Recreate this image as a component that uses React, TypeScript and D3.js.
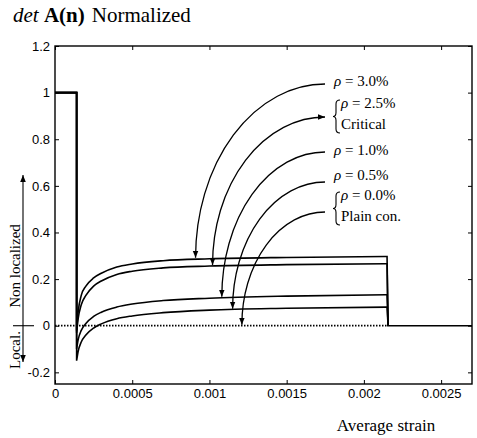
import * as d3 from 'd3';
import React, { useEffect, useRef } from 'react';

// strain where the step ends / where the curves drop back to zero
const stepEnd = 0.00014;
const dropAt = 0.00215;

// [strain, det A(n)] after the step, one array per reinforcement ratio
const rho30 = [[0.00014, -0.02], [0.00015, 0.06], [0.00017, 0.13], [0.0002, 0.17], [0.00025, 0.205], [0.0003, 0.225], [0.0004, 0.252], [0.0005, 0.265], [0.0007, 0.279], [0.001, 0.287], [0.0015, 0.293], [0.00215, 0.297]];
const rho25 = [[0.00014, -0.03], [0.00015, 0.03], [0.00017, 0.09], [0.0002, 0.13], [0.00025, 0.17], [0.0003, 0.192], [0.0004, 0.22], [0.0005, 0.234], [0.0007, 0.248], [0.001, 0.256], [0.0015, 0.262], [0.00215, 0.266]];
const rho10 = [[0.00014, -0.1], [0.00015, -0.06], [0.00017, -0.02], [0.0002, 0.01], [0.00025, 0.04], [0.0003, 0.058], [0.0004, 0.08], [0.0005, 0.093], [0.0007, 0.108], [0.001, 0.118], [0.0015, 0.127], [0.00215, 0.133]];
const rho05 = [[0.00014, -0.15], [0.00015, -0.11], [0.00017, -0.07], [0.0002, -0.04], [0.00025, -0.01], [0.0003, 0.008], [0.0004, 0.03], [0.0005, 0.042], [0.0007, 0.056], [0.001, 0.067], [0.0015, 0.075], [0.00215, 0.08]];
const seriesList = [rho30, rho25, rho10, rho05];

const xTicks = [0, 0.0005, 0.001, 0.0015, 0.002, 0.0025];
const yTicks = [-0.2, 0, 0.2, 0.4, 0.6, 0.8, 1, 1.2];

// label lines and where their arrows point (strain, value)
const labelLines = [["ρ = 3.0%"], ["ρ = 2.5%", "Critical"], ["ρ = 1.0%"], ["ρ = 0.5%"], ["ρ = 0.0%", "Plain con."]];
const arrowTips = [[0.00091, 0.287], [0.00102, 0.256], [0.00108, 0.12], [0.00115, 0.069], [0.00121, 0]];

const W = 477, H = 438;

const App = () => {
    const ref = useRef(null);

    useEffect(() => {
        const svg = d3.select(ref.current);
        svg.selectAll("*").remove();

        const x = d3.scaleLinear().domain([0, 0.0027]).range([55, 472]);
        const y = d3.scaleLinear().domain([-0.25, 1.2]).range([384, 46]);

        svg.append("defs").append("marker")
            .attr("id", "ah")
            .attr("viewBox", "0 0 10 10")
            .attr("refX", 10).attr("refY", 5)
            .attr("markerWidth", 7).attr("markerHeight", 7)
            .attr("markerUnits", "userSpaceOnUse")
            .attr("orient", "auto-start-reverse")
            .append("path").attr("d", "M0,1L10,5L0,9Z").attr("fill", "#000");

        // title
        const title = svg.append("text")
            .attr("x", 13).attr("y", 22)
            .style("font-family", "'Liberation Serif', serif")
            .style("font-size", "21px");
        title.append("tspan").style("font-style", "italic").text("det ");
        title.append("tspan").style("font-weight", "bold").text("A(n)");
        title.append("tspan").attr("dx", 7).text("Normalized");

        // axes with inward ticks
        const tickFont = (g) => g.selectAll("text")
            .style("font-family", "'Liberation Sans', Arial, sans-serif")
            .style("font-size", "13px")
            .attr("fill", "#000");

        svg.append("g").attr("transform", `translate(0,${y(-0.25)})`)
            .call(d3.axisBottom(x).tickValues(xTicks).tickSizeInner(-4).tickSizeOuter(0).tickPadding(5)
                .tickFormat(d => String(d)))
            .call(g => g.select(".domain").remove())
            .call(tickFont);
        svg.append("g").attr("transform", `translate(0,${y(1.2)})`)
            .call(d3.axisTop(x).tickValues(xTicks).tickSizeInner(-4).tickSizeOuter(0).tickFormat(() => ""))
            .call(g => g.select(".domain").remove());
        svg.append("g").attr("transform", `translate(${x(0)},0)`)
            .call(d3.axisLeft(y).tickValues(yTicks).tickSizeInner(-4).tickSizeOuter(0).tickPadding(5)
                .tickFormat(d => String(d)))
            .call(g => g.select(".domain").remove())
            .call(tickFont);
        svg.append("g").attr("transform", `translate(${x(0.0027)},0)`)
            .call(d3.axisRight(y).tickValues(yTicks).tickSizeInner(-4).tickSizeOuter(0).tickFormat(() => ""))
            .call(g => g.select(".domain").remove());

        svg.append("rect")
            .attr("x", x(0)).attr("y", y(1.2))
            .attr("width", x(0.0027) - x(0)).attr("height", y(-0.25) - y(1.2))
            .attr("fill", "none").attr("stroke", "#000").attr("stroke-width", 1.4);

        // zero line: dotted for plain concrete, solid after the drop
        svg.append("line")
            .attr("x1", x(0)).attr("x2", x(dropAt))
            .attr("y1", y(0)).attr("y2", y(0))
            .attr("stroke", "#000").attr("stroke-width", 1.7).attr("stroke-dasharray", "1.5,1.5");
        svg.append("line")
            .attr("x1", x(dropAt)).attr("x2", x(0.0027))
            .attr("y1", y(0)).attr("y2", y(0))
            .attr("stroke", "#000").attr("stroke-width", 1.5);

        // curves
        const line = d3.line().curve(d3.curveMonotoneX).x(d => x(d[0])).y(d => y(d[1]));
        seriesList.forEach(s => {
            const d = `M${x(0)},${y(1)}L${x(stepEnd)},${y(1)}`
                + line(s).replace(/^M/, "L")
                + `L${x(dropAt) + 1},${y(0)}`;
            svg.append("path").attr("d", d)
                .attr("fill", "none").attr("stroke", "#000").attr("stroke-width", 1.6);
        });

        // labels and leader arrows
        const labelFont = (t) => t.style("font-family", "'Liberation Serif', serif").style("font-size", "15px");
        const labelY = [86, 108, 155, 180, 200];
        const leaderY = [84, 117, 152, 182, 212];
        labelLines.forEach((lines, i) => {
            const braced = lines.length > 1;
            const tx = braced ? 341 : 334;
            lines.forEach((s, j) => {
                const t = svg.append("text").attr("x", tx).attr("y", labelY[i] + j * 20.5).call(labelFont);
                if (j === 0) {
                    t.append("tspan").style("font-style", "italic").text(s.slice(0, 1));
                    t.append("tspan").text(s.slice(1));
                } else t.text(s);
            });
            if (braced) {
                const top = labelY[i] - 8, bot = labelY[i] + 25, mid = (top + bot) / 2;
                svg.append("path")
                    .attr("d", `M340,${top}Q336,${top} 336,${top + 4}L336,${mid - 4}Q336,${mid} 333,${mid}Q336,${mid} 336,${mid + 4}L336,${bot - 4}Q336,${bot} 340,${bot}`)
                    .attr("fill", "none").attr("stroke", "#000").attr("stroke-width", 1.1);
            }
            const sx = 325, sy = leaderY[i];
            const ex = x(arrowTips[i][0]), ey = y(arrowTips[i][1]) - 1;
            const p = svg.append("path")
                .attr("d", `M${sx},${sy}A${sx - ex},${ey - sy} 0 0 0 ${ex},${ey}`)
                .attr("fill", "none").attr("stroke", "#000").attr("stroke-width", 1.3)
                .attr("marker-end", "url(#ah)");
            if (i === 1) p.attr("marker-start", "url(#ah)");
        });

        // x axis title
        svg.append("text")
            .attr("x", 386).attr("y", 431)
            .attr("text-anchor", "middle")
            .style("font-family", "'Liberation Serif', serif")
            .style("font-size", "17px")
            .text("Average strain");

        // local / non localized indicator
        svg.append("line")
            .attr("x1", 23).attr("x2", 23).attr("y1", 175).attr("y2", 362)
            .attr("stroke", "#000").attr("stroke-width", 1.1)
            .attr("marker-start", "url(#ah)").attr("marker-end", "url(#ah)");
        svg.append("line")
            .attr("x1", 13).attr("x2", 34).attr("y1", y(0)).attr("y2", y(0))
            .attr("stroke", "#000").attr("stroke-width", 1.1);
        svg.append("text")
            .attr("transform", `translate(20,266) rotate(-90)`)
            .attr("text-anchor", "middle")
            .call(labelFont)
            .text("Non localized");
        svg.append("text")
            .attr("transform", `translate(20,350) rotate(-90)`)
            .attr("text-anchor", "middle")
            .call(labelFont)
            .text("Local.");
    }, []);

    return (
        <div style={{ position: "absolute", left: 0, top: 0 }}>
            <svg ref={ref} width={W} height={H} style={{ display: "block", background: "#fff" }} />
        </div>
    );
};

export default App;
